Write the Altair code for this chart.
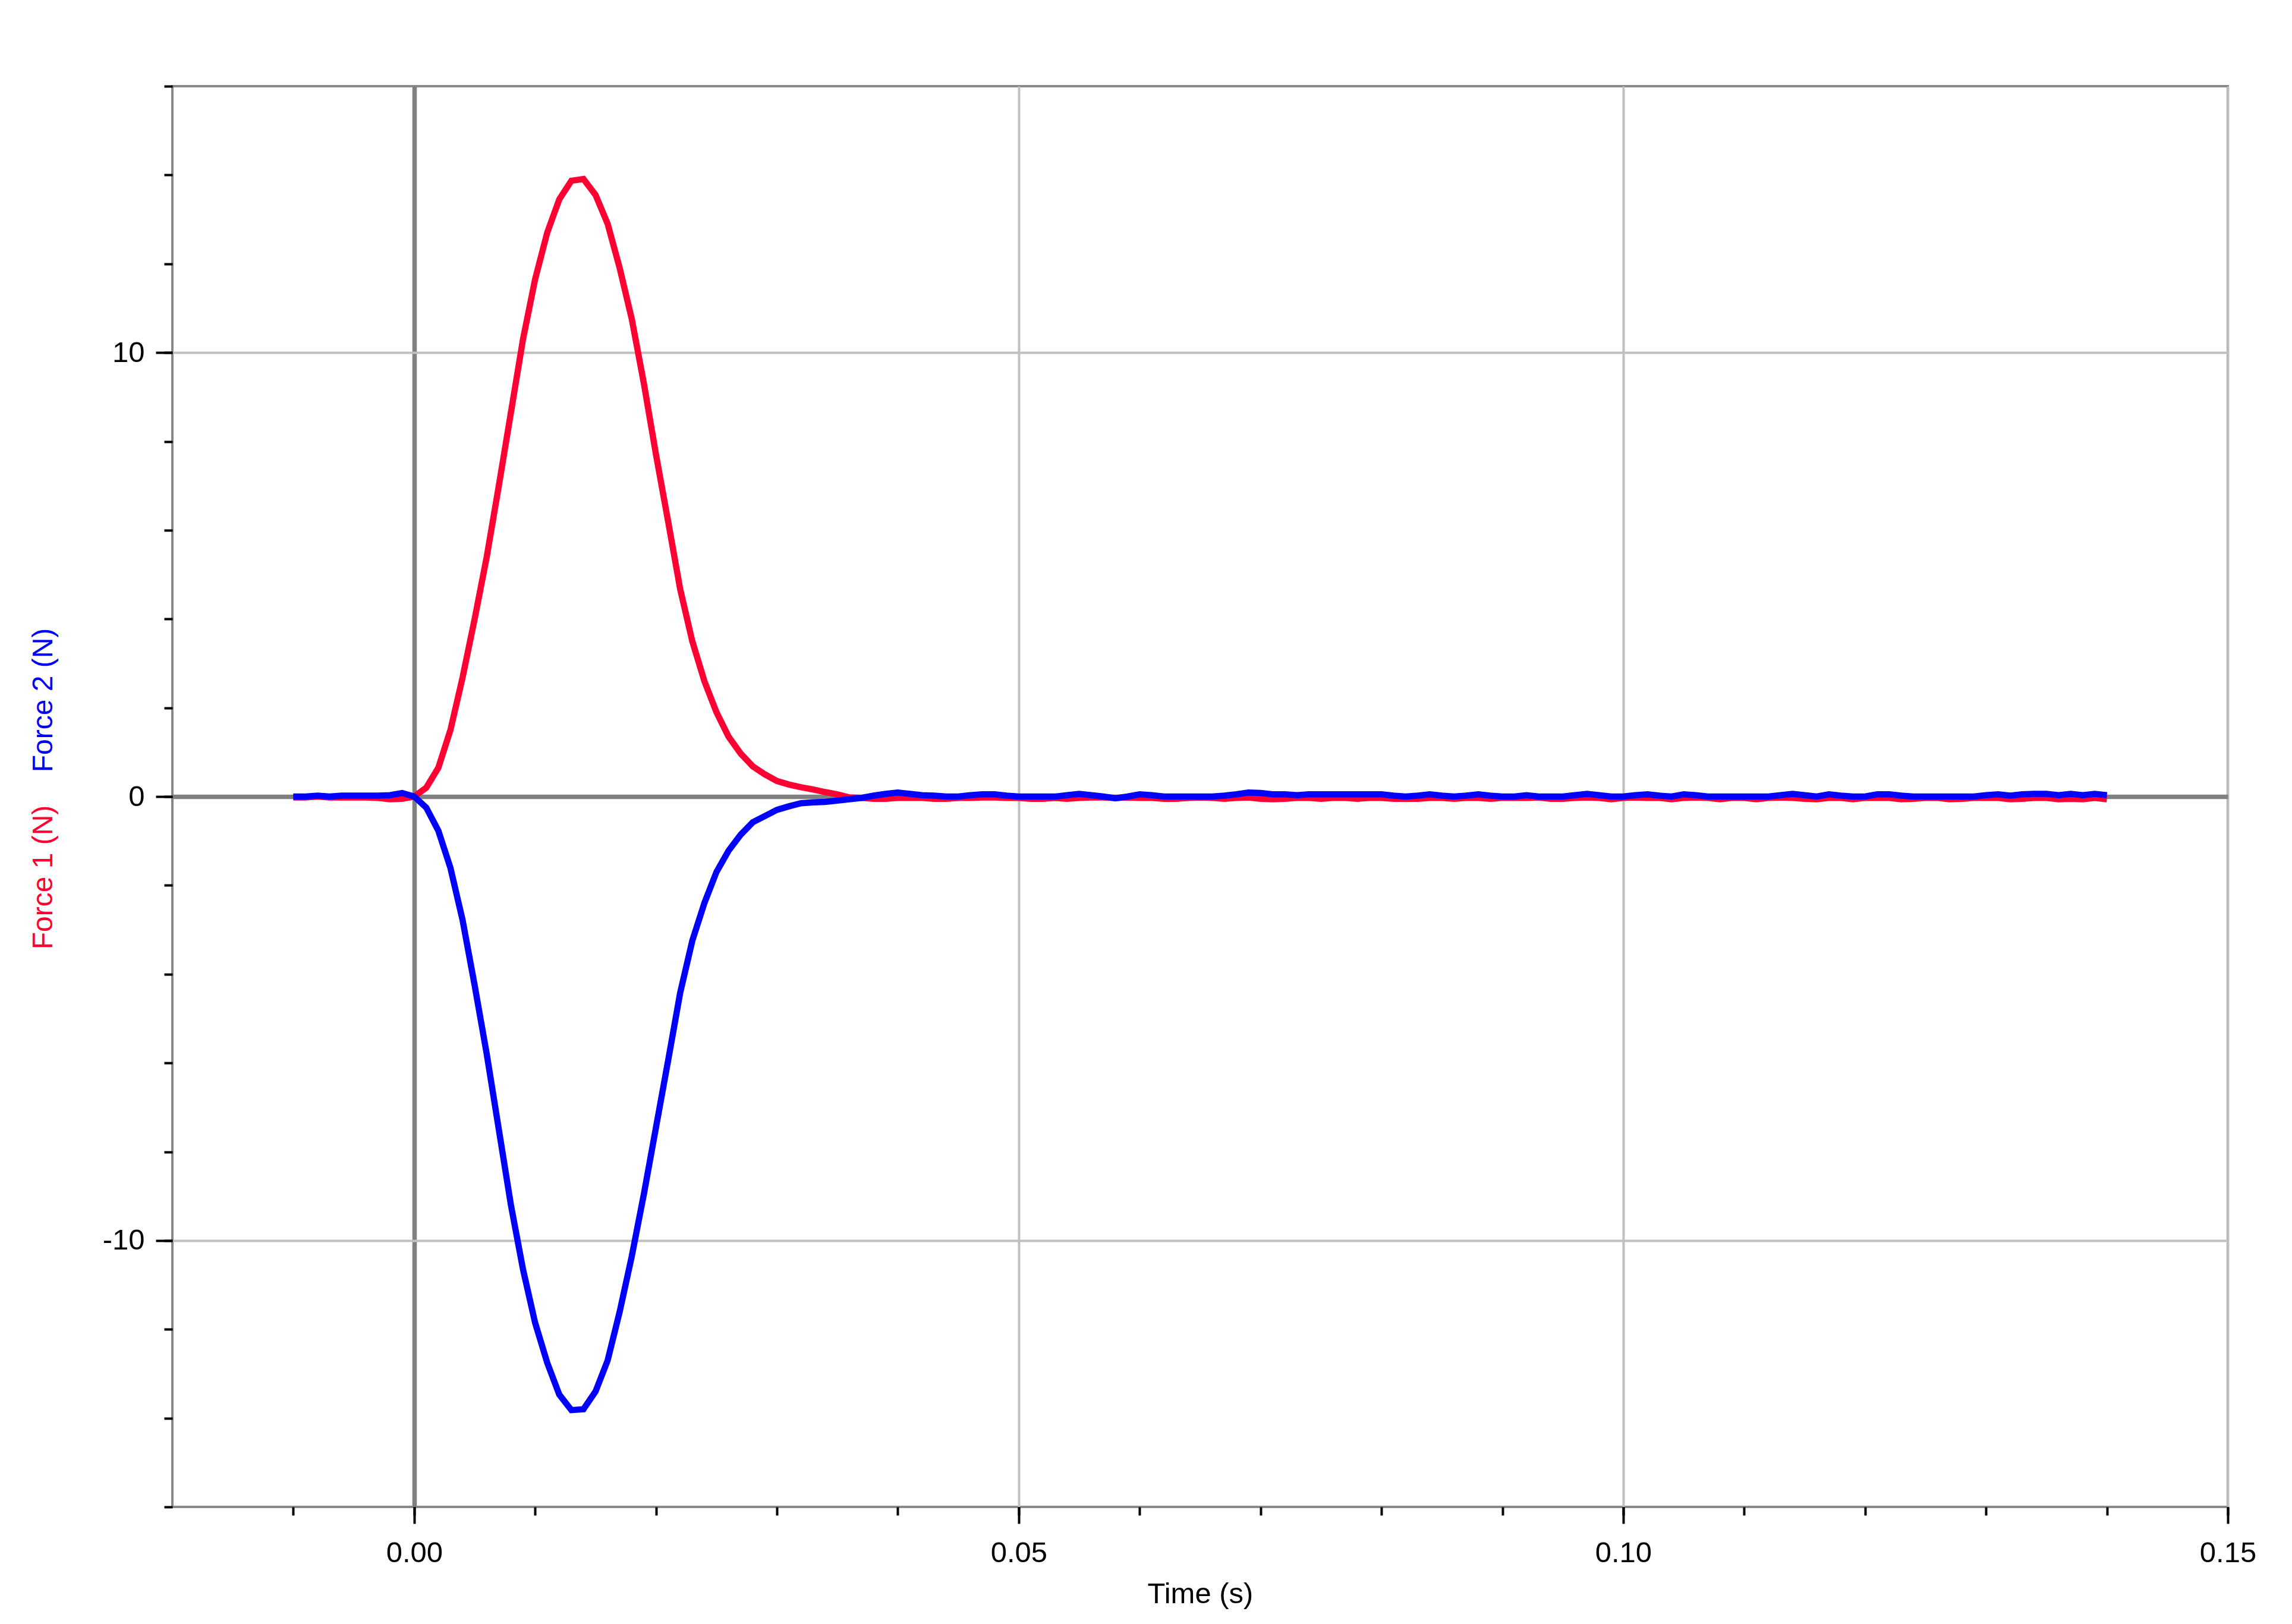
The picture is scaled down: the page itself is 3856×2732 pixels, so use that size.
import altair as alt
import pandas as pd

# ---------------- data ----------------
TIME_MS = [
    -10, -9, -8, -7, -6, -5, -4, -3, -2, -1,
    0, 1, 2, 3, 4, 5, 6, 7, 8, 9,
    10, 11, 12, 13, 14, 15, 16, 17, 18, 19,
    20, 21, 22, 23, 24, 25, 26, 27, 28, 29,
    30, 31, 32, 33, 34, 35, 36, 37, 38, 39,
    40, 41, 42, 43, 44, 45, 46, 47, 48, 49,
    50, 51, 52, 53, 54, 55, 56, 57, 58, 59,
    60, 61, 62, 63, 64, 65, 66, 67, 68, 69,
    70, 71, 72, 73, 74, 75, 76, 77, 78, 79,
    80, 81, 82, 83, 84, 85, 86, 87, 88, 89,
    90, 91, 92, 93, 94, 95, 96, 97, 98, 99,
    100, 101, 102, 103, 104, 105, 106, 107, 108, 109,
    110, 111, 112, 113, 114, 115, 116, 117, 118, 119,
    120, 121, 122, 123, 124, 125, 126, 127, 128, 129,
    130, 131, 132, 133, 134, 135, 136, 137, 138, 139,
    140,
]

FORCE_1 = [
    -0.02, -0.02, 0.00, -0.02, -0.02, -0.02, -0.02, -0.03, -0.06, -0.05,
    0.00, 0.20, 0.65, 1.50, 2.68, 4.00, 5.40, 7.00, 8.65, 10.30,
    11.65, 12.70, 13.45, 13.87, 13.91, 13.55, 12.90, 11.90, 10.75, 9.30,
    7.70, 6.20, 4.67, 3.50, 2.60, 1.90, 1.35, 0.97, 0.68, 0.50,
    0.35, 0.27, 0.21, 0.16, 0.10, 0.05,
    -0.02, -0.03, -0.05, -0.05, -0.03, -0.03, -0.03, -0.05, -0.05, -0.03,
    -0.03, -0.02, -0.02, -0.03, -0.03, -0.05, -0.05, -0.03, -0.05, -0.03,
    -0.02, -0.02, -0.03, -0.02, -0.03, -0.03, -0.05, -0.05, -0.03, -0.02,
    -0.03, -0.05, -0.03, -0.02, -0.05, -0.06, -0.05, -0.03, -0.03, -0.05,
    -0.03, -0.03, -0.05, -0.03, -0.03, -0.05, -0.05, -0.05, -0.03, -0.03,
    -0.05, -0.03, -0.03, -0.05, -0.03, -0.03, -0.03, -0.02, -0.05, -0.05,
    -0.03, -0.02, -0.03, -0.06, -0.03, -0.02, -0.03, -0.03, -0.06, -0.03,
    -0.02, -0.03, -0.06, -0.03, -0.03, -0.06, -0.03, -0.02, -0.03, -0.05,
    -0.06, -0.03, -0.03, -0.06, -0.03, -0.03, -0.03, -0.06, -0.05, -0.03,
    -0.03, -0.06, -0.05, -0.03, -0.03, -0.03, -0.06, -0.05, -0.03, -0.03,
    -0.06, -0.05, -0.06, -0.03, -0.06,
]

FORCE_2 = [
    0.00, 0.00, 0.02, 0.00, 0.02, 0.02, 0.02, 0.02, 0.03, 0.08,
    0.00, -0.25, -0.77, -1.61, -2.78, -4.25, -5.80, -7.50, -9.20, -10.65,
    -11.85, -12.75, -13.47, -13.82, -13.80, -13.40, -12.70, -11.60, -10.35, -8.95,
    -7.45, -5.95, -4.42, -3.25, -2.40, -1.70, -1.22, -0.86, -0.58, -0.44,
    -0.30, -0.22, -0.15, -0.13, -0.12, -0.09,
    -0.06, -0.03, 0.02, 0.06, 0.09, 0.06, 0.03, 0.02, 0.00, 0.00,
    0.03, 0.05, 0.05, 0.02, 0.00, 0.00, 0.00, 0.00, 0.03, 0.06,
    0.03, 0.00, -0.04, 0.00, 0.05, 0.03, 0.00, 0.00, 0.00, 0.00,
    0.00, 0.02, 0.05, 0.09, 0.08, 0.05, 0.05, 0.03, 0.05, 0.05,
    0.05, 0.05, 0.05, 0.05, 0.05, 0.02, 0.00, 0.02, 0.05, 0.02,
    0.00, 0.02, 0.05, 0.02, 0.00, 0.00, 0.03, 0.00, 0.00, 0.00,
    0.03, 0.06, 0.03, 0.00, 0.00, 0.03, 0.05, 0.02, 0.00, 0.05,
    0.03, 0.00, 0.00, 0.00, 0.00, 0.00, 0.00, 0.03, 0.06, 0.03,
    0.00, 0.05, 0.02, 0.00, 0.00, 0.05, 0.05, 0.02, 0.00, 0.00,
    0.00, 0.00, 0.00, 0.00, 0.03, 0.05, 0.02, 0.05, 0.06, 0.06,
    0.03, 0.06, 0.03, 0.06, 0.03,
]

X_MAJOR = [0.0, 0.05, 0.10, 0.15]
X_MINOR = [-0.01, 0.0, 0.01, 0.02, 0.03, 0.04, 0.05, 0.06, 0.07, 0.08,
           0.09, 0.10, 0.11, 0.12, 0.13, 0.14, 0.15]
Y_MAJOR = [-10, 0, 10]
Y_MINOR = [-16, -14, -12, -10, -8, -6, -4, -2, 0, 2, 4, 6, 8, 10, 12, 14, 16]

X_TITLE = "Time (s)"
Y_TITLES = ["Force 1 (N)", "Force 2 (N)"]

assert len(TIME_MS) == len(FORCE_1) == len(FORCE_2) == 151

# ---------------- styling ----------------
RED = "#FF0033"
BLUE = "#0000FF"
FONT = "Liberation Sans"
W, H = 3458, 2390
LW = 10.5
LABEL_FS = 49
TITLE_FS = 49

df = pd.DataFrame({
    "t": [m / 1000 for m in TIME_MS],
    "f1": FORCE_1,
    "f2": FORCE_2,
})

xscale = alt.Scale(domain=[-0.02, 0.15], nice=False, zero=False)
yscale = alt.Scale(domain=[-16, 16], nice=False, zero=False)

grid_color = {"condition": {"test": "datum.value === 0", "value": "#808080"}, "value": "#C0C0C0"}
grid_width = {"condition": {"test": "datum.value === 0", "value": 7.5}, "value": 4}

x_major = alt.Axis(
    orient="bottom", values=X_MAJOR, title=X_TITLE, grid=True,
    gridColor=grid_color, gridWidth=grid_width, gridOpacity=1,
    domain=False, ticks=True, tickSize=28, tickWidth=4, tickColor="black",
    labelExpr="format(datum.value, '.2f')", labelFont=FONT, labelFontSize=LABEL_FS,
    labelColor="black", labelPadding=25, labelFlush=False, labelOverlap=False,
    titleFont=FONT, titleFontSize=TITLE_FS, titleFontWeight="normal", titleColor="black",
    titleY=161, titleBaseline="alphabetic",
)
y_major = alt.Axis(
    orient="left", values=Y_MAJOR, title=None, grid=True,
    gridColor=grid_color, gridWidth=grid_width, gridOpacity=1,
    domain=False, ticks=True, tickSize=28, tickWidth=4, tickColor="black",
    labelExpr="'' + datum.value", labelFont=FONT, labelFontSize=LABEL_FS,
    labelColor="black", labelPadding=19, labelFlush=False, labelOverlap=False,
)
x_minor = alt.Axis(
    orient="bottom", values=X_MINOR, title=None, grid=False, domain=False,
    labels=False, ticks=True, tickSize=14, tickWidth=4, tickColor="black",
)
y_minor = alt.Axis(
    orient="left", values=Y_MINOR, title=None, grid=False, domain=False,
    labels=False, ticks=True, tickSize=14, tickWidth=4, tickColor="black",
)

base = alt.Chart(df)

minor = base.mark_line(opacity=0).encode(
    x=alt.X("t:Q", scale=xscale, axis=x_minor),
    y=alt.Y("f1:Q", scale=yscale, axis=y_minor),
)

red_line = base.mark_line(color=RED, strokeWidth=LW).encode(
    x=alt.X("t:Q", scale=xscale, axis=x_major),
    y=alt.Y("f1:Q", scale=yscale, axis=y_major),
)

blue_line = base.mark_line(color=BLUE, strokeWidth=LW).encode(
    x=alt.X("t:Q", scale=xscale, axis=None),
    y=alt.Y("f2:Q", scale=yscale, axis=None),
)

title_red = alt.Chart(pd.DataFrame({"txt": [Y_TITLES[0]]})).mark_text(
    angle=270, color=RED, font=FONT, fontSize=48, align="center", baseline="alphabetic"
).encode(x=alt.value(-202), y=alt.value(1331), text="txt:N")

title_blue = alt.Chart(pd.DataFrame({"txt": [Y_TITLES[1]]})).mark_text(
    angle=270, color=BLUE, font=FONT, fontSize=48, align="center", baseline="alphabetic"
).encode(x=alt.value(-202), y=alt.value(1033), text="txt:N")

chart = alt.layer(minor, red_line, blue_line, title_red, title_blue).resolve_axis(
    x="independent", y="independent"
).properties(
    width=W, height=H,
    background="white",
    autosize=alt.AutoSizeParams(type="none"),
    padding={"left": 282, "top": 137, "right": 90, "bottom": 180},
).configure_view(
    stroke="#888888", strokeWidth=4
)

chart.save("out.html", embed_options={"renderer": "svg", "actions": False})
